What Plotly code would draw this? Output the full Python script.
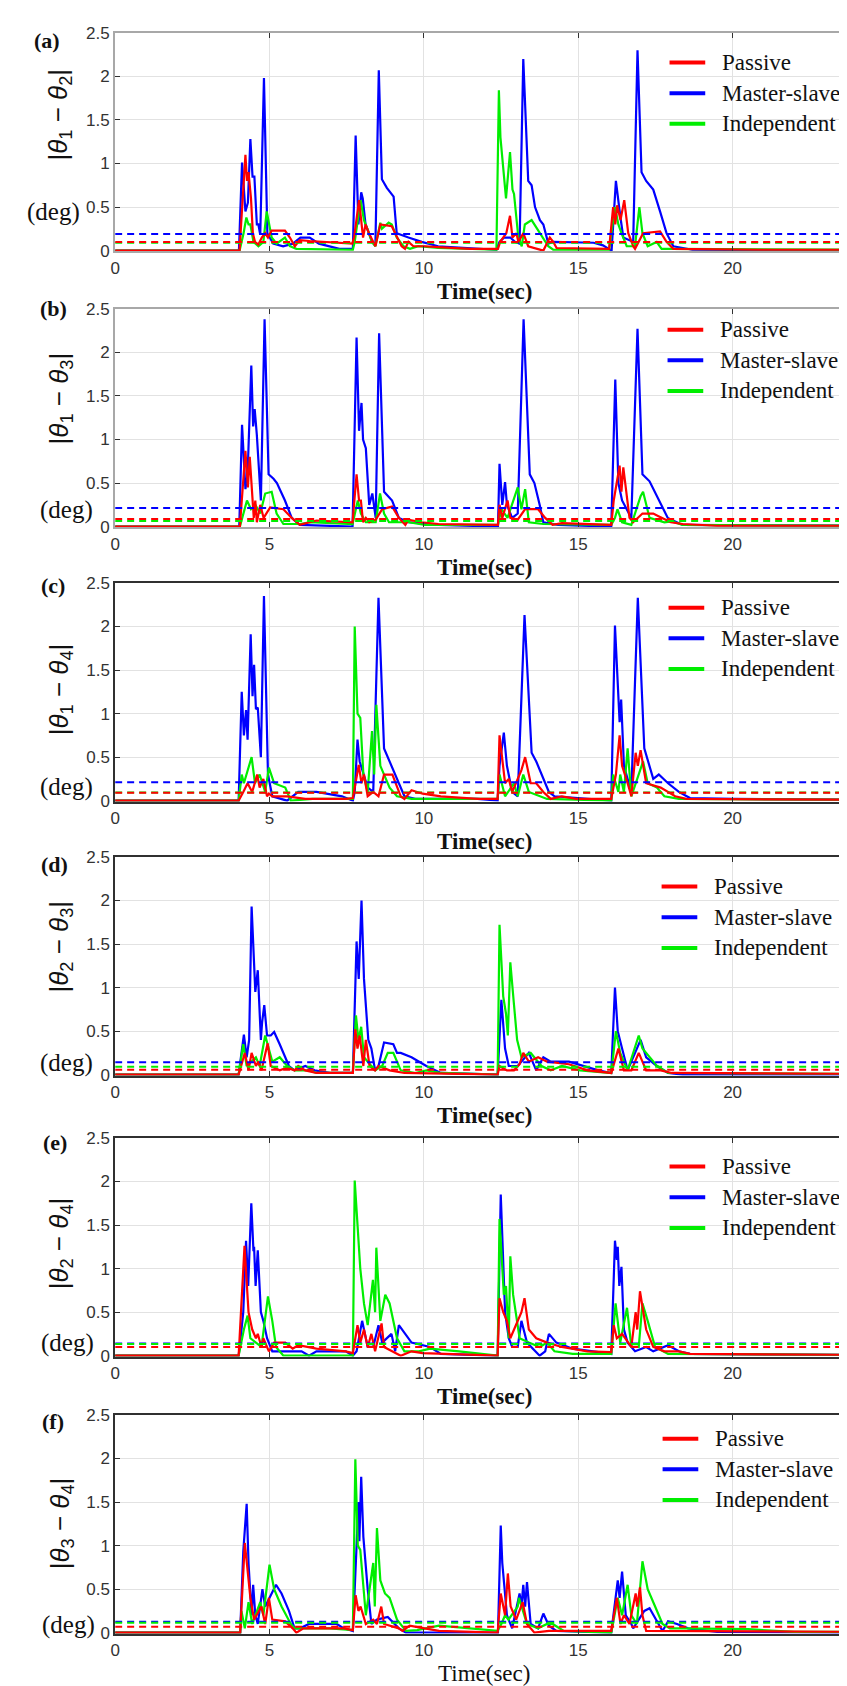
import plotly.graph_objects as go

# ---------------- data: (time [s], |angle difference| [deg]) ----------------
A_PASSIVE = [(0,0),(4.03,0),(4.08,0.3),(4.22,1.1),(4.27,0.8),(4.32,0.9),(4.4,0.6),(4.46,0.2),(4.53,0.1),(4.64,0.07),(4.75,0.15),(4.86,0.2),(4.95,0.15),(5.07,0.23),(5.5,0.23),(5.66,0.15),(5.82,0.05),(5.98,0.12),(6.3,0.11),(7.68,0.08),
             (7.74,0.15),(7.9,0.58),(8.03,0.15),(8.11,0.3),(8.22,0.2),(8.32,0.12),(8.43,0.05),(8.59,0.3),(8.96,0.28),(9.07,0.2),(9.28,0.05),(9.39,0.02),(9.5,0.1),(9.66,0.05),(10.03,0.05),(10.46,0.04),(11.5,0.02),(12.4,0.02),
             (12.47,0.1),(12.67,0.2),(12.79,0.4),(12.87,0.15),(13.0,0.2),(13.06,0.1),(13.22,0.2),(13.38,0.05),(13.7,0.02),(13.87,0.0),(14.08,0.15),(14.19,0.1),(14.3,0.03),(16.0,0.02),
             (16.13,0.5),(16.2,0.3),(16.26,0.52),(16.37,0.35),(16.49,0.58),(16.62,0.2),(16.78,0.05),(16.84,0.02),(17.1,0.2),(17.65,0.22),(17.86,0.1),(18.08,0.02),(20.9,0.01),(23.9,0.01)]
A_MASTER = [(0,0),(4.01,0),(4.11,1.01),(4.22,0.45),(4.3,0.55),(4.38,1.28),(4.45,0.85),(4.51,0.85),(4.59,0.3),(4.64,0.3),(4.70,0.18),(4.82,1.98),(4.93,0.2),(5.12,0.08),(5.44,0.05),(5.76,0.08),(6.0,0.15),(6.3,0.15),(6.6,0.08),(7.26,0.02),(7.70,0.02),
            (7.79,1.32),(7.88,0.3),(7.97,0.67),(8.02,0.6),(8.11,0.3),(8.22,0.2),(8.32,0.1),(8.43,0.06),(8.54,2.07),(8.64,0.82),(8.80,0.72),(9.02,0.62),(9.12,0.2),(9.50,0.15),(9.93,0.1),(10.46,0.05),(11.5,0.03),(12.35,0.01),
            (12.45,0.1),(12.6,0.15),(12.8,0.15),(12.95,0.1),(13.1,0.08),(13.22,2.2),(13.38,0.8),(13.49,0.75),(13.6,0.5),(13.76,0.35),(13.87,0.3),(14.03,0.08),(14.19,0.1),(15.5,0.09),(15.8,0.06),(16.08,0.0),
            (16.22,0.8),(16.30,0.55),(16.36,0.4),(16.46,0.15),(16.78,0.1),(16.92,2.3),(17.05,0.9),(17.20,0.8),(17.43,0.7),(17.65,0.45),(17.86,0.2),(18.08,0.05),(18.7,0.01),(23.9,0.0)]
A_INDEP = [(0,0),(4.03,0),(4.16,0.2),(4.25,0.38),(4.32,0.3),(4.38,0.3),(4.48,0.1),(4.64,0.05),(4.8,0.1),(4.91,0.45),(4.99,0.3),(5.07,0.15),(5.23,0.08),(5.5,0.15),(5.66,0.05),(5.87,0.02),(7.7,0.01),
           (7.76,0.1),(7.95,0.58),(8.06,0.35),(8.17,0.25),(8.32,0.1),(8.43,0.05),(8.59,0.32),(8.64,0.25),(8.86,0.32),(8.96,0.3),(9.12,0.15),(9.34,0.05),(9.55,0.02),(9.82,0.05),(10.46,0.03),(12.35,0.01),
           (12.43,1.84),(12.48,1.3),(12.6,0.8),(12.66,0.6),(12.79,1.13),(12.87,0.7),(12.92,0.65),(13.06,0.15),(13.17,0.05),(13.27,0.3),(13.49,0.35),(13.76,0.2),(14.03,0.05),(14.19,0.01),(16.0,0.01),
           (16.19,0.5),(16.3,0.3),(16.4,0.2),(16.57,0.05),(16.84,0.05),(16.98,0.5),(17.08,0.2),(17.25,0.05),(17.54,0.1),(17.7,0.02),(17.97,0.02),(23.9,0.01)]
A_THRESH = {"Passive": 0.10, "Master-slave": 0.19, "Independent": 0.09}

B_PASSIVE = [(0,0),(4.04,0),(4.22,0.87),(4.3,0.45),(4.36,0.8),(4.43,0.4),(4.49,0.1),(4.54,0.3),(4.59,0.05),(4.7,0.25),(4.81,0.1),(5.02,0.22),(5.45,0.2),(5.72,0.1),(5.98,0.02),(6.52,0.07),(7.26,0.06),(7.69,0.05),
             (7.82,0.6),(7.9,0.3),(7.96,0.3),(8.03,0.05),(8.12,0.1),(8.23,0.05),(8.44,0.08),(8.65,0.2),(8.97,0.23),(9.19,0.1),(9.4,0.02),(9.5,0.08),(9.93,0.05),(10.47,0.03),(12.4,0.02),
             (12.45,0.25),(12.54,0.1),(12.71,0.3),(12.8,0.1),(13.04,0.08),(13.28,0.2),(13.7,0.2),(13.93,0.1),(14.17,0.02),(14.47,0.04),(16.07,0.02),
             (16.15,0.3),(16.34,0.7),(16.4,0.4),(16.46,0.68),(16.66,0.1),(16.78,0.05),(17.08,0.15),(17.43,0.15),(17.6,0.12),(18.0,0.05),(18.38,0.03),(19.5,0.01),(23.9,0.01)]
B_MASTER = [(0,0),(4.02,0),(4.11,1.17),(4.16,0.8),(4.22,0.43),(4.29,0.6),(4.41,1.85),(4.47,1.15),(4.52,1.35),(4.59,1.05),(4.72,0.3),(4.84,2.38),(4.97,0.6),(5.13,0.55),(5.24,0.5),(5.5,0.3),(5.72,0.1),(5.98,0.02),(7.69,0.0),
            (7.82,2.17),(7.9,1.1),(7.98,1.42),(8.03,1.0),(8.12,0.9),(8.23,0.25),(8.33,0.38),(8.44,0.1),(8.55,2.22),(8.71,0.4),(8.97,0.3),(9.19,0.1),(9.51,0.05),(10.47,0.02),(12.4,0.0),
            (12.45,0.72),(12.54,0.25),(12.63,0.51),(12.69,0.25),(12.86,0.1),(13.04,0.15),(13.23,2.38),(13.43,0.6),(13.58,0.5),(13.75,0.25),(13.87,0.05),(14.35,0.02),(16.07,0.0),
            (16.2,1.69),(16.3,0.5),(16.42,0.3),(16.72,0.1),(16.92,2.27),(17.08,0.6),(17.31,0.52),(17.55,0.35),(17.9,0.1),(18.38,0.02),(23.9,0.01)]
B_INDEP = [(0,0),(4.04,0),(4.27,0.3),(4.4,0.2),(4.54,0.25),(4.7,0.15),(4.86,0.38),(5.07,0.4),(5.23,0.15),(5.45,0.03),(5.98,0.03),(6.3,0.05),(7.69,0.03),
           (7.86,0.3),(7.96,0.15),(8.12,0.05),(8.44,0.05),(8.58,0.38),(8.71,0.15),(8.87,0.05),(9.51,0.05),(10.04,0.02),(12.4,0.02),
           (12.51,0.2),(12.71,0.1),(13.04,0.45),(13.16,0.2),(13.28,0.43),(13.4,0.05),(13.87,0.03),(16.07,0.02),
           (16.19,0.1),(16.27,0.2),(16.42,0.05),(16.72,0.02),(17.02,0.35),(17.1,0.4),(17.31,0.1),(17.79,0.05),(18.03,0.06),(18.38,0.02),(23.9,0.01)]
B_THRESH = {"Passive": 0.087, "Master-slave": 0.215, "Independent": 0.064}

C_PASSIVE = [(0,0),(4.0,0),(4.15,0.1),(4.29,0.2),(4.44,0.1),(4.6,0.3),(4.68,0.15),(4.8,0.25),(4.92,0.05),(4.98,0.08),(5.09,0.05),(5.57,0.05),(6.16,0.02),(7.47,0.02),(7.7,0.03),
             (7.89,0.41),(7.98,0.2),(8.06,0.3),(8.18,0.05),(8.36,0.1),(8.53,0.05),(8.71,0.3),(8.98,0.3),(9.25,0.05),(9.37,0.02),(9.6,0.12),(9.96,0.08),(10.55,0.05),(11.74,0.02),(12.39,0.02),
             (12.45,0.75),(12.54,0.5),(12.63,0.2),(12.75,0.25),(12.86,0.1),(13.16,0.35),(13.28,0.5),(13.46,0.2),(13.64,0.2),(13.87,0.1),(14.11,0.02),(14.47,0.05),(14.94,0.02),(16.07,0.02),
             (16.22,0.3),(16.34,0.75),(16.42,0.4),(16.6,0.2),(16.72,0.05),(16.86,0.55),(16.93,0.4),(17.02,0.58),(17.2,0.2),(17.67,0.15),(18.14,0.05),(18.5,0.02),(23.9,0.01)]
C_MASTER = [(0,0),(4.0,0),(4.1,1.25),(4.17,0.75),(4.24,1.04),(4.29,0.7),(4.39,1.91),(4.45,1.2),(4.5,1.56),(4.56,1.05),(4.62,1.07),(4.72,0.5),(4.82,2.35),(4.95,0.3),(5.09,0.05),(5.57,0.0),(5.93,0.1),(6.52,0.1),(7.35,0.05),(7.7,0.0),
            (7.76,0.1),(7.85,0.7),(7.92,0.45),(8.06,0.3),(8.18,0.15),(8.36,0.1),(8.53,2.33),(8.71,0.6),(8.83,0.5),(9.01,0.35),(9.19,0.2),(9.37,0.05),(9.72,0.02),(11.74,0.02),(12.39,0.0),
            (12.45,0.4),(12.59,0.78),(12.69,0.4),(12.86,0.1),(13.04,0.05),(13.26,2.13),(13.49,0.55),(13.64,0.45),(13.81,0.3),(14.05,0.1),(14.23,0.05),(14.94,0.03),(16.07,0.0),
            (16.19,2.01),(16.3,1.15),(16.34,0.9),(16.39,1.16),(16.48,0.4),(16.72,0.1),(16.93,2.33),(17.14,0.6),(17.43,0.25),(17.61,0.3),(17.91,0.2),(18.26,0.1),(18.62,0.03),(20.0,0.02),(23.9,0.01)]
C_INDEP = [(0,0),(4.0,0),(4.1,0.3),(4.17,0.2),(4.42,0.5),(4.53,0.2),(4.68,0.3),(4.86,0.1),(4.98,0.38),(5.15,0.2),(5.51,0.15),(5.69,0.0),(6.4,0.02),(7.7,0.02),
           (7.76,2.0),(7.85,1.0),(7.94,0.95),(8.04,0.3),(8.18,0.1),(8.32,0.8),(8.39,0.3),(8.46,1.1),(8.59,0.4),(8.89,0.15),(9.13,0.05),(9.6,0.02),(12.39,0.02),
           (12.45,0.3),(12.63,0.05),(12.92,0.2),(13.04,0.05),(13.22,0.3),(13.4,0.1),(13.75,0.05),(13.99,0.02),(16.07,0.0),
           (16.13,0.3),(16.3,0.1),(16.36,0.3),(16.48,0.1),(16.6,0.6),(16.72,0.05),(17.1,0.45),(17.25,0.2),(17.55,0.15),(17.79,0.05),(18.26,0.02),(23.9,0.01)]
C_THRESH = {"Passive": 0.09, "Master-slave": 0.21, "Independent": 0.095}

D_PASSIVE = [(0,0),(4.0,0),(4.2,0.25),(4.32,0.05),(4.42,0.25),(4.56,0.1),(4.64,0.15),(4.74,0.05),(4.94,0.36),(5.04,0.1),(5.33,0.05),(5.57,0.08),(5.81,0.05),(5.93,0.1),(6.16,0.05),(6.52,0.02),(7.7,0.02),
             (7.78,0.52),(7.85,0.3),(7.92,0.45),(8.04,0.1),(8.12,0.4),(8.24,0.1),(8.42,0.05),(8.53,0.1),(8.89,0.05),(9.37,0.02),(12.39,0.0),
             (12.45,0.1),(12.69,0.05),(12.92,0.05),(13.1,0.12),(13.22,0.25),(13.4,0.15),(13.7,0.2),(13.99,0.15),(14.7,0.12),(15.3,0.05),(16.07,0.02),
             (16.3,0.3),(16.48,0.05),(16.72,0.05),(16.96,0.25),(17.2,0.05),(17.67,0.05),(18.03,0.02),(23.9,0.01)]
D_MASTER = [(0,0),(4.0,0),(4.17,0.46),(4.26,0.2),(4.34,0.4),(4.42,1.93),(4.54,0.95),(4.62,1.2),(4.72,0.4),(4.76,0.6),(4.83,0.8),(4.92,0.45),(5.04,0.45),(5.15,0.49),(5.33,0.35),(5.63,0.1),(5.81,0.05),(6.16,0.1),(6.46,0.05),(6.99,0.02),(7.7,0.02),
            (7.82,1.53),(7.89,1.1),(7.98,2.0),(8.06,1.1),(8.2,0.4),(8.3,0.3),(8.42,0.05),(8.53,0.1),(8.71,0.37),(9.01,0.35),(9.13,0.25),(9.25,0.25),(9.6,0.2),(10.08,0.1),(10.55,0.02),(12.39,0.0),
            (12.51,0.86),(12.63,0.3),(12.75,0.1),(13.04,0.1),(13.4,0.25),(13.64,0.05),(13.87,0.2),(14.11,0.15),(14.7,0.15),(15.65,0.05),(16.07,0.02),
            (16.19,1.0),(16.28,0.5),(16.42,0.3),(16.6,0.05),(17.02,0.4),(17.2,0.2),(17.55,0.1),(17.91,0.02),(18.38,0.0),(23.9,0.0)]
D_INDEP = [(0,0),(4.0,0),(4.15,0.35),(4.26,0.1),(4.56,0.2),(4.68,0.1),(4.86,0.45),(5.09,0.15),(5.33,0.2),(5.57,0.1),(5.81,0.05),(6.28,0.05),(6.52,0.02),(7.7,0.02),
           (7.8,0.68),(7.88,0.4),(7.97,0.55),(8.06,0.2),(8.42,0.05),(8.65,0.1),(8.83,0.25),(9.01,0.25),(9.25,0.05),(9.72,0.02),(10.08,0.05),(10.55,0.02),(12.39,0.0),
           (12.45,1.72),(12.57,0.9),(12.66,0.7),(12.72,0.45),(12.8,1.29),(12.92,0.8),(13.02,0.4),(13.16,0.2),(13.46,0.25),(13.81,0.1),(14.11,0.05),(14.47,0.1),(15.06,0.05),(16.07,0.02),
           (16.15,0.3),(16.22,0.5),(16.36,0.25),(16.6,0.05),(16.96,0.45),(17.08,0.3),(17.55,0.1),(17.91,0.02),(23.9,0.01)]
D_THRESH = {"Passive": 0.056, "Master-slave": 0.143, "Independent": 0.09}

E_PASSIVE = [(0,0),(4.0,0),(4.19,1.26),(4.26,0.9),(4.32,0.5),(4.44,0.3),(4.56,0.2),(4.62,0.25),(4.74,0.1),(4.8,0.2),(4.98,0.05),(5.15,0.15),(5.51,0.15),(5.75,0.08),(5.93,0.12),(6.52,0.08),(7.47,0.05),(7.7,0.03),
             (7.85,0.35),(7.94,0.15),(8.06,0.3),(8.18,0.1),(8.3,0.25),(8.42,0.05),(8.63,0.37),(8.71,0.1),(9.25,0.0),(9.6,0.05),(9.96,0.03),(12.39,0.0),
             (12.45,0.66),(12.57,0.5),(12.69,0.4),(12.8,0.2),(13.16,0.5),(13.26,0.66),(13.4,0.3),(13.64,0.2),(13.99,0.15),(14.47,0.1),(15.3,0.05),(16.07,0.04),
             (16.15,0.35),(16.25,0.2),(16.42,0.25),(16.72,0.1),(16.86,0.5),(16.91,0.3),(17.0,0.74),(17.2,0.3),(17.43,0.1),(17.79,0.05),(18.26,0.05),(18.62,0.02),(23.9,0.01)]
E_MASTER = [(0,0),(4.0,0),(4.05,0.15),(4.15,0.5),(4.24,1.32),(4.31,0.8),(4.41,1.75),(4.48,1.2),(4.5,1.25),(4.55,0.8),(4.62,1.21),(4.72,0.5),(4.8,0.4),(4.92,0.2),(5.09,0.05),(6.04,0.05),(6.28,0.0),(6.52,0.05),(7.47,0.05),(7.7,0.0),
            (7.82,0.05),(8.0,0.4),(8.18,0.1),(8.36,0.1),(8.53,0.35),(8.65,0.15),(8.95,0.25),(9.07,0.05),(9.19,0.35),(9.6,0.15),(10.2,0.1),(10.55,0.02),(12.39,0.0),
            (12.49,1.85),(12.63,0.5),(12.75,0.2),(12.86,0.1),(13.04,0.1),(13.16,0.4),(13.34,0.15),(13.75,0.0),(13.93,0.05),(14.05,0.25),(14.29,0.15),(14.82,0.08),(15.65,0.04),(16.07,0.02),
            (16.19,1.32),(16.25,1.1),(16.28,1.25),(16.33,0.8),(16.4,1.02),(16.48,0.3),(16.6,0.15),(16.84,0.05),(17.2,0.1),(17.43,0.05),(17.91,0.12),(18.26,0.05),(18.62,0.02),(23.9,0.01)]
E_INDEP = [(0,0),(4.0,0),(4.17,0.3),(4.29,0.46),(4.38,0.2),(4.74,0.1),(4.95,0.68),(5.09,0.4),(5.21,0.1),(5.45,0.0),(7.7,0.0),
           (7.76,2.01),(7.94,1.0),(8.06,0.6),(8.18,0.35),(8.35,0.87),(8.42,0.5),(8.46,1.24),(8.59,0.4),(8.75,0.7),(8.89,0.6),(9.13,0.2),(9.37,0.05),(9.84,0.05),(10.2,0.08),(11.14,0.05),(12.39,0.0),
           (12.45,1.57),(12.59,0.7),(12.66,0.8),(12.75,0.2),(12.8,1.14),(12.89,0.7),(12.98,0.5),(13.1,0.2),(13.4,0.15),(13.75,0.1),(13.99,0.15),(14.23,0.05),(14.82,0.02),(16.07,0.02),
           (16.21,0.6),(16.36,0.15),(16.58,0.55),(16.72,0.1),(16.96,0.1),(17.08,0.6),(17.25,0.4),(17.49,0.1),(17.91,0.02),(23.9,0.01)]
E_THRESH = {"Passive": 0.10, "Master-slave": 0.14, "Independent": 0.135}

F_PASSIVE = [(0,0),(4.05,0),(4.2,1.03),(4.26,0.8),(4.38,0.4),(4.5,0.15),(4.74,0.3),(4.86,0.1),(4.98,0.4),(5.09,0.15),(5.51,0.13),(5.75,0.05),(5.87,0.0),(6.1,0.05),(7.41,0.05),(7.7,0.03),
             (7.79,0.43),(7.88,0.25),(7.95,0.3),(8.12,0.1),(8.36,0.15),(8.48,0.1),(8.62,0.3),(8.71,0.1),(9.19,0.05),(9.31,0.02),(9.54,0.08),(10.02,0.05),(10.49,0.02),(12.39,0.0),
             (12.49,0.45),(12.63,0.2),(12.72,0.68),(12.81,0.3),(12.99,0.15),(13.2,0.35),(13.34,0.1),(13.58,0.0),(14.05,0.02),(16.07,0.02),
             (16.25,0.4),(16.37,0.1),(16.48,0.2),(16.66,0.1),(16.86,0.45),(16.91,0.3),(17.0,0.52),(17.08,0.2),(17.2,0.02),(23.9,0.01)]
F_MASTER = [(0,0),(4.05,0),(4.15,0.93),(4.26,1.48),(4.32,0.8),(4.42,0.2),(4.47,0.55),(4.54,0.2),(4.62,0.1),(4.77,0.5),(4.86,0.3),(5.21,0.55),(5.39,0.45),(5.63,0.25),(5.81,0.05),(5.99,0.05),(6.28,0.1),(7.17,0.1),(7.41,0.05),(7.7,0.02),
            (7.76,0.5),(7.88,1.5),(7.91,1.05),(7.97,1.79),(8.04,1.1),(8.18,0.5),(8.3,0.1),(8.48,0.15),(8.83,0.18),(9.19,0.05),(9.42,0.0),(12.4,0.0),
            (12.49,1.23),(12.54,0.8),(12.69,0.2),(12.86,0.05),(13.1,0.45),(13.16,0.3),(13.22,0.55),(13.28,0.3),(13.34,0.58),(13.46,0.1),(13.7,0.05),(13.87,0.22),(14.05,0.08),(14.29,0.02),(16.07,0.0),
            (16.28,0.6),(16.34,0.4),(16.42,0.7),(16.54,0.2),(16.72,0.1),(16.78,0.05),(17.14,0.25),(17.31,0.28),(17.61,0.1),(17.73,0.02),(17.91,0.13),(18.2,0.1),(18.56,0.05),(19.5,0.01),(23.9,0.0)]
F_INDEP = [(0,0),(4.05,0),(4.09,0.25),(4.2,0.05),(4.32,0.35),(4.44,0.1),(4.7,0.35),(4.8,0.2),(5.0,0.78),(5.15,0.5),(5.39,0.3),(5.69,0.1),(5.81,0.05),(6.94,0.05),(7.7,0.03),
           (7.78,1.99),(7.86,1.0),(7.94,0.95),(8.12,0.2),(8.36,0.8),(8.41,0.3),(8.48,1.2),(8.59,0.6),(8.74,0.45),(8.89,0.4),(9.13,0.15),(9.42,0.02),(9.78,0.03),(10.49,0.08),(11.44,0.05),(12.39,0.02),
           (12.51,0.1),(12.63,0.2),(12.74,0.15),(13.04,0.3),(13.08,0.4),(13.34,0.1),(13.7,0.05),(13.99,0.1),(14.17,0.1),(14.53,0.02),(16.07,0.0),
           (16.28,0.4),(16.42,0.2),(16.6,0.55),(16.72,0.2),(16.9,0.1),(17.08,0.82),(17.25,0.5),(17.49,0.3),(17.73,0.1),(17.97,0.05),(18.32,0.05),(20.5,0.04),(22.0,0.01),(23.9,0.01)]
F_THRESH = {"Passive": 0.068, "Master-slave": 0.125, "Independent": 0.113}

SERIES = ["Passive", "Master-slave", "Independent"]
PANEL_TAGS = ["(a)", "(b)", "(c)", "(d)", "(e)", "(f)"]
PAIRS = [("1", "2"), ("1", "3"), ("1", "4"), ("2", "3"), ("2", "4"), ("3", "4")]
X_TICKS = [0, 5, 10, 15, 20]
Y_TICKS = [0, 0.5, 1, 1.5, 2, 2.5]
Y_TICK_TEXT = ["0", "0.5", "1", "1.5", "2", "2.5"]
X_TITLE = "Time(sec)"
UNIT = "(deg)"

panels = [
    {"Passive": A_PASSIVE, "Master-slave": A_MASTER, "Independent": A_INDEP, "thr": A_THRESH},
    {"Passive": B_PASSIVE, "Master-slave": B_MASTER, "Independent": B_INDEP, "thr": B_THRESH},
    {"Passive": C_PASSIVE, "Master-slave": C_MASTER, "Independent": C_INDEP, "thr": C_THRESH},
    {"Passive": D_PASSIVE, "Master-slave": D_MASTER, "Independent": D_INDEP, "thr": D_THRESH},
    {"Passive": E_PASSIVE, "Master-slave": E_MASTER, "Independent": E_INDEP, "thr": E_THRESH},
    {"Passive": F_PASSIVE, "Master-slave": F_MASTER, "Independent": F_INDEP, "thr": F_THRESH},
]

# ---------------- styling / layout (pixels) ----------------
W, H = 847, 1686
COLORS = {"Passive": "#ff0000", "Master-slave": "#0000ff", "Independent": "#00ee00"}
DRAW_ORDER = ["Master-slave", "Independent", "Passive"]
PLOT_LEFT = 103
PLOT_H = 221
BOTTOMS = [237, 516, 793, 1070, 1354, 1634]
AXIS_COLORS = ["#a8a8a8", "#a8a8a8", "#303030", "#303030", "#303030", "#303030"]
TAG_POS = [(34, 8), (41, 0), (40, 3), (42, 8), (42, 5), (40, 7)]       # (x, dy from top)
YTITLE_POS = [(47, 83), (48, 91), (48, 108), (48, 91), (48, 107), (49, 110)]
UNIT_POS = [(41, 40), (54, 18), (54, 15), (54, 13), (55, 14), (56, 9)]  # (x, dy above bottom)
LEG_X = [662, 660, 661, 654, 662, 655]
LEG_DY = [191, 200, 196, 191, 192, 197]  # first row, above bottom
LEG_STEP = 31
XMAX = 23.9

SERIF = "Liberation Serif, Times New Roman, serif"
SANS = "Liberation Sans, Arial, sans-serif"


def px(x):
    return x / W


def py(y):
    return 1 - y / H


fig = go.Figure()
annotations = []
shapes = []
layout = {}

for i, p in enumerate(panels):
    k = "" if i == 0 else str(i + 1)
    xa, ya = "x" + k, "y" + k
    for name in DRAW_ORDER:
        pts = p[name]
        fig.add_trace(go.Scatter(
            x=[t for t, _ in pts], y=[v for _, v in pts], mode="lines",
            line=dict(color=COLORS[name], width=2.2), xaxis=xa, yaxis=ya,
            showlegend=False, hoverinfo="skip"))
    for name in DRAW_ORDER:
        thr = p["thr"][name]
        fig.add_trace(go.Scatter(
            x=[0, XMAX], y=[thr, thr], mode="lines",
            line=dict(color=COLORS[name], width=2, dash="7px,5px"),
            xaxis=xa, yaxis=ya, showlegend=False, hoverinfo="skip"))

    bottom = BOTTOMS[i]
    top = bottom - PLOT_H
    ac = AXIS_COLORS[i]
    lw = 2 if i < 2 else 1.5
    layout["xaxis" + k] = dict(
        domain=[PLOT_LEFT / W, 1], range=[0, XMAX], anchor=ya,
        tickvals=X_TICKS, ticktext=[str(v) for v in X_TICKS],
        ticks="inside", ticklen=5, tickcolor="#303030",
        showgrid=True, gridcolor="#e2e2e2", gridwidth=1,
        showline=True, linecolor=ac, linewidth=lw, mirror="ticks",
        zeroline=False, tickfont=dict(family=SANS, size=17, color="#333333"))
    layout["yaxis" + k] = dict(
        domain=[py(bottom), py(top)], range=[-0.01, 2.5], anchor=xa,
        tickvals=Y_TICKS, ticktext=Y_TICK_TEXT,
        ticks="inside", ticklen=5, tickcolor="#303030",
        showgrid=True, gridcolor="#e2e2e2", gridwidth=1,
        showline=True, linecolor=ac, linewidth=lw, mirror="ticks",
        zeroline=False, tickfont=dict(family=SANS, size=17, color="#333333"))

    # panel tag
    tx, tdy = TAG_POS[i]
    annotations.append(dict(text="<b>%s</b>" % PANEL_TAGS[i], x=px(tx), y=py(top + tdy),
                            xref="paper", yref="paper", showarrow=False,
                            font=dict(family=SERIF, size=22, color="#111111"),
                            xanchor="center", yanchor="middle"))
    # y-axis title
    a, b = PAIRS[i]
    yx, ydy = YTITLE_POS[i]
    annotations.append(dict(
        text="|<i>θ</i><sub>%s</sub> − <i>θ</i><sub>%s</sub>|" % (a, b),
        x=px(yx), y=py(top + ydy), xref="paper", yref="paper", showarrow=False,
        textangle=-90, font=dict(family=SANS, size=26, color="#111111"),
        xanchor="center", yanchor="middle"))
    # unit
    ux, udy = UNIT_POS[i]
    annotations.append(dict(text=UNIT, x=px(ux), y=py(bottom - udy), xref="paper", yref="paper",
                            showarrow=False, font=dict(family=SERIF, size=25, color="#111111"),
                            xanchor="center", yanchor="middle"))
    # x-axis title
    annotations.append(dict(text=("<b>%s</b>" % X_TITLE) if i < 5 else X_TITLE,
                            x=px((PLOT_LEFT + W) / 2), y=py(bottom + 40),
                            xref="paper", yref="paper", showarrow=False,
                            font=dict(family=SERIF, size=23, color="#111111"),
                            xanchor="center", yanchor="middle"))
    # legend (drawn manually to match placement)
    for j, name in enumerate(SERIES):
        ly = bottom - LEG_DY[i] + j * LEG_STEP
        shapes.append(dict(type="line", xref="paper", yref="paper",
                           x0=px(LEG_X[i]), x1=px(LEG_X[i] + 36), y0=py(ly), y1=py(ly),
                           line=dict(color=COLORS[name], width=4)))
        annotations.append(dict(text=name, x=px(LEG_X[i] + 51), y=py(ly), xref="paper", yref="paper",
                                showarrow=False, xanchor="left", yanchor="middle",
                                font=dict(family=SERIF, size=23, color="#111111")))

fig.update_layout(
    width=W, height=H, margin=dict(l=0, r=0, t=0, b=0),
    paper_bgcolor="white", plot_bgcolor="white", showlegend=False,
    annotations=annotations, shapes=shapes, **layout)

fig.write_html("out.html")
